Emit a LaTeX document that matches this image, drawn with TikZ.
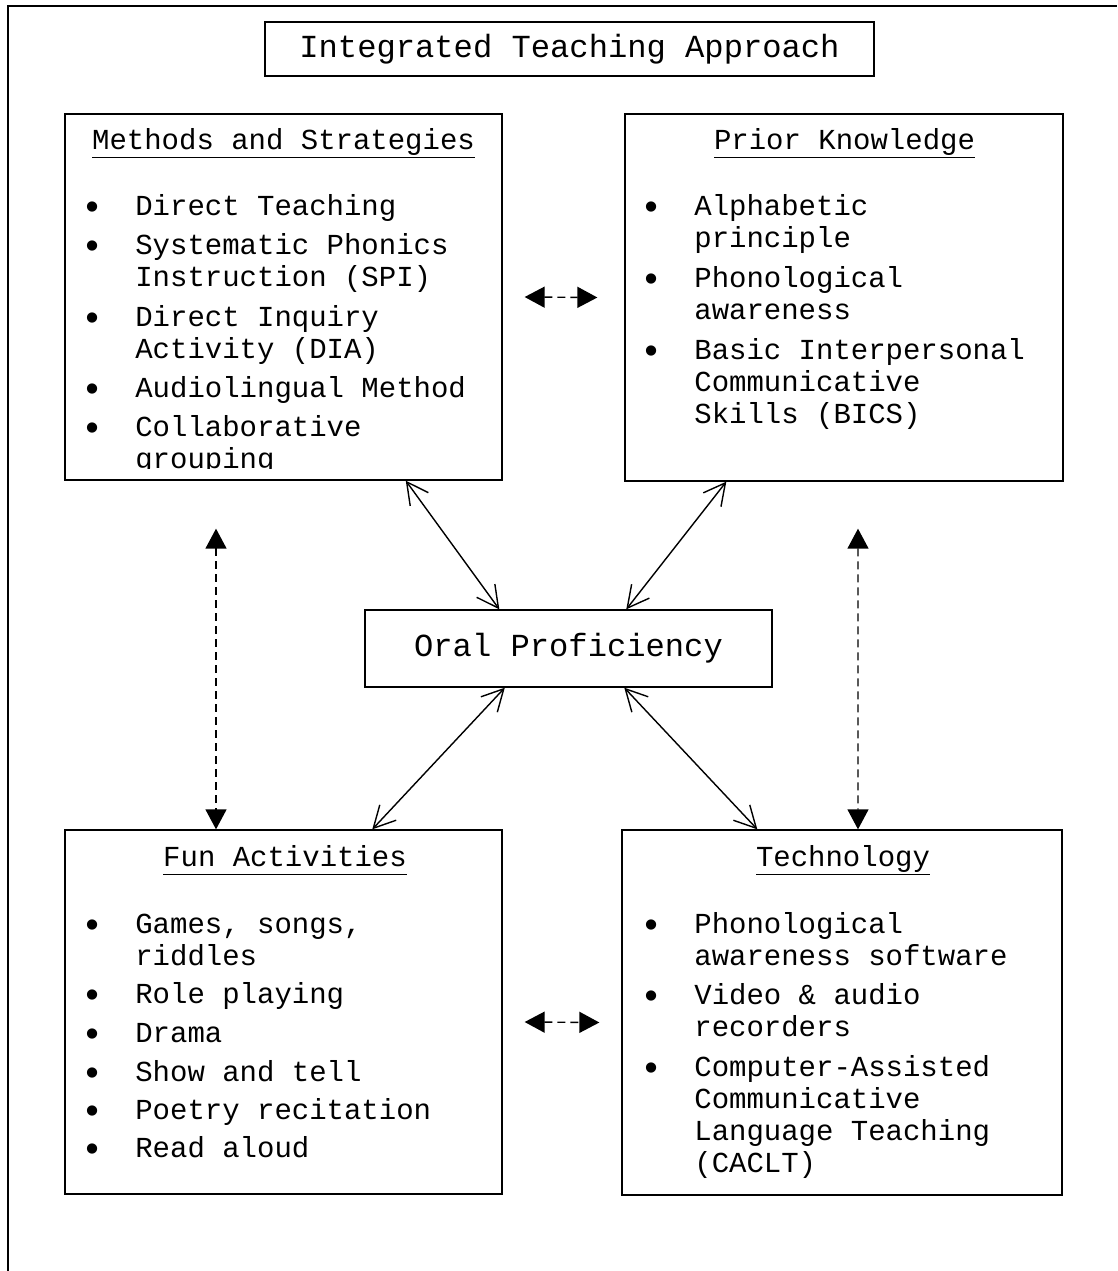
\documentclass[tikz,border=0pt]{standalone}
\usepackage{fontspec}
\usepackage{graphicx}
\setmainfont{Liberation Mono}
\usetikzlibrary{arrows.meta}
\newcommand{\itm}{\llap{\makebox[1.09cm][l]{\raisebox{-2.6pt}{\scalebox{1.3}{\textbullet}}}}}
\newcommand{\hd}[1]{\underline{#1\vphantom{gy}}}

\begin{document}
\begin{tikzpicture}[x=0.02cm,y=-0.02cm,
    box/.style={draw,line width=0.8pt,inner sep=0},
    txt/.style={anchor=base west,align=left,inner sep=0,font=\fontsize{16.5}{18.2}\selectfont},
    hdr/.style={anchor=base,inner sep=0,font=\fontsize{16.5}{18.2}\selectfont},
    big/.style={font=\fontsize{18.3}{22}\selectfont},
    both/.style={{Straight Barb[length=0.43cm,width=0.45cm]}-{Straight Barb[length=0.43cm,width=0.45cm]},line width=0.8pt},
    dsh/.style={{Triangle[length=0.4cm,width=0.42cm]}-{Triangle[length=0.4cm,width=0.42cm]},line width=0.8pt,dash pattern=on 0.16cm off 0.1cm}]
  \useasboundingbox (0,0) rectangle (1117,1271);
  \draw[line width=0.8pt] (8,1271) -- (8,6) -- (1117,6);

  \node[box,big,minimum width=12.18cm,minimum height=1.08cm] (title) at (569.5,49) {Integrated Teaching Approach};
  \node[box,minimum width=8.74cm,minimum height=7.32cm] (methods) at (283.5,297) {};
  \node[box,minimum width=8.76cm,minimum height=7.34cm] (prior) at (844,297.5) {};
  \node[box,big,minimum width=8.14cm,minimum height=1.54cm] (oral) at (568.5,648.5) {Oral Proficiency};
  \node[box,minimum width=8.74cm,minimum height=7.28cm] (fun) at (283.5,1012) {};
  \node[box,minimum width=8.8cm,minimum height=7.3cm] (tech) at (842,1012.5) {};

  % methods and strategies (points sit on the last line)
  \node[hdr] (mh) at (283.5,149) {\hd{Methods and Strategies}};
  \begin{scope}
    \clip (methods.north west) rectangle ([yshift=0.24cm]methods.south east);
    \node[txt] (m1) at (135,215) {\itm Direct Teaching};
    \node[txt] (m2) at (135,286) {\itm Systematic Phonics\\Instruction (SPI)};
    \node[txt] (m3) at (135,358) {\itm Direct Inquiry\\Activity (DIA)};
    \node[txt] (m4) at (135,397) {\itm Audiolingual Method};
    \node[txt] (m5) at (135,468) {\itm Collaborative\\grouping};
  \end{scope}

  % prior knowledge
  \node[hdr] (ph) at (844.5,149) {\hd{Prior Knowledge}};
  \node[txt] (p1) at (694,247) {\itm Alphabetic\\principle};
  \node[txt] (p2) at (694,319) {\itm Phonological\\awareness};
  \node[txt] (p3) at (694,423) {\itm Basic Interpersonal\\Communicative\\Skills (BICS)};

  % fun activities
  \node[hdr] (fh) at (285,866) {\hd{Fun Activities}};
  \node[txt] (f1) at (135,965) {\itm Games, songs,\\riddles};
  \node[txt] (f2) at (135,1003) {\itm Role playing};
  \node[txt] (f3) at (135,1042) {\itm Drama};
  \node[txt] (f4) at (135,1081) {\itm Show and tell};
  \node[txt] (f5) at (135,1119) {\itm Poetry recitation};
  \node[txt] (f6) at (135,1157) {\itm Read aloud};

  % technology
  \node[hdr] (th) at (843,866) {\hd{Technology}};
  \node[txt] (t1) at (694,965) {\itm Phonological\\awareness software};
  \node[txt] (t2) at (694,1036) {\itm Video \& audio\\recorders};
  \node[txt] (t3) at (694,1172) {\itm Computer-Assisted\\Communicative\\Language Teaching\\(CACLT)};

  \draw[both] ([xshift=6.83cm]methods.south west) -- ([xshift=2.7cm]oral.north west);
  \draw[both] ([xshift=2.04cm]prior.south west) -- ([xshift=5.24cm]oral.north west);
  \draw[both] ([xshift=2.81cm]oral.south west) -- ([xshift=6.16cm]fun.north west);
  \draw[both] ([xshift=5.2cm]oral.south west) -- ([xshift=2.72cm]tech.north west);

  \draw[dsh] ([xshift=0.44cm]methods.east) -- ([xshift=-0.54cm]prior.west);
  \draw[dsh] ([xshift=0.44cm,yshift=-0.2cm]fun.east) -- ([xshift=-0.44cm,yshift=-0.2cm]tech.west);
  \draw[dsh] ([xshift=-1.35cm,yshift=-0.96cm]methods.south) -- ([xshift=-1.35cm]fun.north);
  \draw[dsh] ([xshift=0.28cm,yshift=-0.94cm]prior.south) -- ([xshift=0.32cm]tech.north);
\end{tikzpicture}
\end{document}
